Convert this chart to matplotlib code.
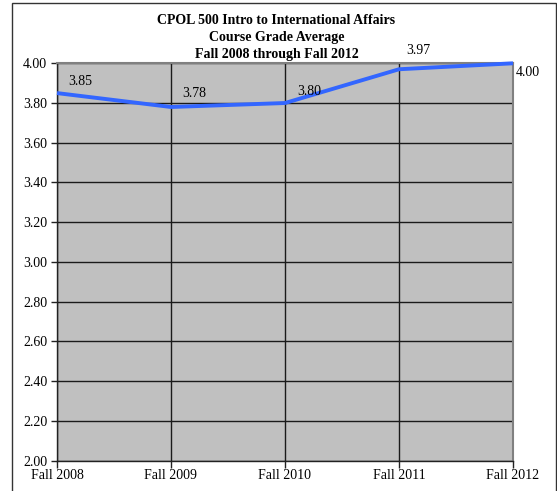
import matplotlib
matplotlib.use("Agg")
import matplotlib.pyplot as plt
from matplotlib.patches import Rectangle

terms = ["Fall 2008", "Fall 2009", "Fall 2010", "Fall 2011", "Fall 2012"]
grades = [3.85, 3.78, 3.80, 3.97, 4.00]
grade_labels = ["3.85", "3.78", "3.80", "3.97", "4.00"]
yticks = [2.00, 2.20, 2.40, 2.60, 2.80, 3.00, 3.20, 3.40, 3.60, 3.80, 4.00]
title_lines = ["CPOL 500 Intro to International Affairs",
               "Course Grade Average",
               "Fall 2008 through Fall 2012"]

plt.rcParams['font.family'] = ['Liberation Serif', 'DejaVu Serif']
plt.rcParams['font.size'] = 10

W, H = 557, 491
fig = plt.figure(figsize=(W / 100, H / 100), dpi=100)

# outer border
fig.patches.append(Rectangle((12 / W, -0.05), (556 - 12) / W, 1.05 - 3.5 / H,
                             transform=fig.transFigure, fill=False,
                             edgecolor='#333333', linewidth=1.0))

ax = fig.add_axes([57 / W, 1 - 460.5 / H, (513 - 57) / W, (460.5 - 63.3) / H])
ax.set_facecolor('#c0c0c0')

x = list(range(len(terms)))
ax.set_xlim(0, len(terms) - 1)
ax.set_ylim(2.0, 4.0)
ax.set_yticks(yticks)
ax.set_yticklabels([f"{v:.2f}" for v in yticks])
ax.set_xticks(x)
ax.set_xticklabels(terms)

ax.grid(True, color='#1a1a1a', linewidth=1.0)
ax.set_axisbelow(True)

for s in ['left', 'bottom']:
    ax.spines[s].set_color('#222222')
    ax.spines[s].set_linewidth(1.0)
for s in ['right', 'top']:
    ax.spines[s].set_color('#808080')
    ax.spines[s].set_linewidth(1.5)

ax.tick_params(axis='y', direction='out', length=4, width=1, pad=3, colors='#222222', labelcolor='black')
ax.tick_params(axis='x', direction='out', length=5, width=1, pad=1, colors='#222222', labelcolor='black')

ax.plot(x, grades, color='#3366ff', linewidth=2.8, solid_capstyle='butt', clip_on=False, zorder=5)

offsets = [(23, 12), (23, 13), (24, 12), (19, 19), (15, -9)]
for xi, yi, lab, off in zip(x, grades, grade_labels, offsets):
    ax.annotate(lab, (xi, yi), xytext=off, textcoords='offset pixels',
                ha='center', va='center', fontsize=10, annotation_clip=False, zorder=6)

for i, line in enumerate(title_lines):
    fig.text(276.5 / W, 1 - (20.7 + i * 16.8) / H, line, ha='center', va='center',
             fontsize=10, fontweight='bold')

fig.savefig("out.png", dpi=100)
